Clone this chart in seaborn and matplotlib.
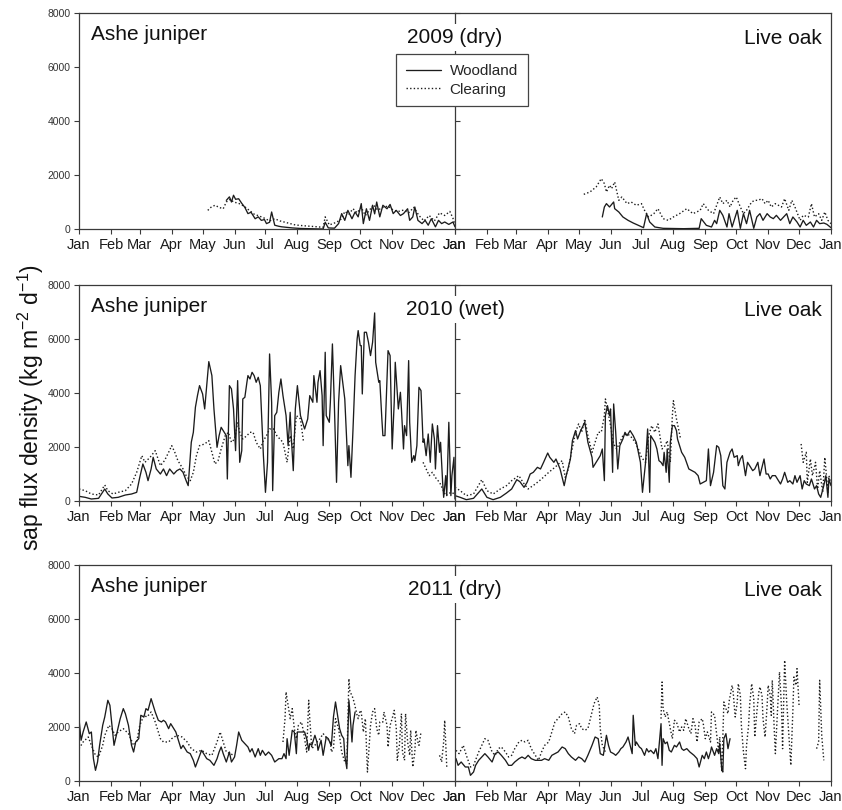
import numpy as np
import pandas as pd
import matplotlib
matplotlib.use("Agg")
import matplotlib.pyplot as plt
import seaborn as sns
from matplotlib.lines import Line2D

# ---------------- data (day of year, sap flux density kg m-2 d-1); None = gap ----------------
month_starts = [0, 31, 59, 90, 120, 151, 181, 212, 243, 273, 304, 334, 365]
month_labels = ["Jan", "Feb", "Mar", "Apr", "May", "Jun", "Jul", "Aug", "Sep", "Oct", "Nov", "Dec", "Jan"]
y_ticks = [0, 2000, 4000, 6000, 8000]
year_labels = ["2009 (dry)", "2010 (wet)", "2011 (dry)"]
species = ["Ashe juniper", "Live oak"]
sites = ["Woodland", "Clearing"]

ash09_wood = [(143,1060),(146,1190),(148,1000),(150,1250),(152,1100),(155,1120),(158,950),(161,800),(164,570),
              (167,620),(171,380),(174,450),(177,320),(180,350),(182,200),(185,250),(187,630),(190,140),(194,100),
              (197,80),(202,60),(207,40),(215,20),(223,12),(230,5),(237,0),(239,250),(242,40),(248,30),(252,200),
              (255,570),(258,320),(261,690),(265,380),(268,630),(271,450),(274,940),(276,200),(279,750),(282,320),
              (285,880),(287,560),(289,1000),(292,450),(295,880),(299,750),(302,910),(305,570),(308,690),(312,500),
              (315,570),(319,750),(321,320),(324,445),(326,815),(329,320),(333,200),(336,320),(339,140),(342,380),
              (346,80),(349,320),(352,200),(355,260),(359,170),(363,260),(365,80)]
ash09_clear = [(125,690),(128,800),(132,880),(136,800),(140,750),(143,1000),(147,1100),(150,1000),(155,950),
               (160,850),(165,700),(170,550),(175,480),(180,400),(185,300),(190,380),(195,300),(200,250),(205,200),
               (210,150),(218,120),(225,100),(232,80),(237,60),(239,450),(243,150),(250,250),(255,380),(258,650),
               (262,550),(266,750),(270,600),(274,800),(278,500),(282,700),(286,900),(290,700),(295,800),(300,850),
               (305,700),(310,650),(315,700),(320,600),(325,800),(330,500),(335,300),(340,500),(345,300),(350,600),
               (355,500),(360,650),(363,400),(365,150)]
oak09_wood = [(143,445),(145,815),(147,939),(150,815),(154,1000),(155,753),(159,630),(163,445),(168,321),(173,222),
              (178,136),(183,49),(186,568),(189,259),(194,74),(202,25),(222,12),(237,25),(239,383),(244,136),(249,74),
              (252,321),(254,198),(257,692),(260,506),(264,74),(266,568),(269,74),(272,445),(274,692),(277,25),
              (280,568),(283,198),(286,692),(290,25),(293,445),(296,568),(299,321),(303,568),(306,445),(309,383),
              (312,506),(316,321),(319,445),(322,568),(325,198),(328,445),(332,259),(335,74),(338,321),(341,136),
              (345,259),(348,74),(351,321),(354,198),(358,222),(361,173),(365,49)]
oak09_clear = [(125,1284),(131,1371),(137,1556),(142,1865),(145,1680),(147,1371),(150,1618),(152,1494),(155,1741),
               (159,1062),(162,1186),(167,939),(171,1000),(176,877),(181,939),(184,692),(188,445),(193,568),(197,753),
               (202,383),(207,321),(212,445),(218,568),(225,753),(231,568),(238,692),(241,939),(246,692),(251,568),
               (257,1186),(260,939),(264,1062),(267,815),(270,1062),(273,1186),(277,815),(280,568),(283,692),
               (288,1000),(291,1062),(294,1062),(298,1124),(301,939),(304,1062),(307,815),(311,939),(314,877),
               (317,815),(320,1124),(324,692),(327,1062),(330,815),(335,321),(338,506),(343,445),(346,939),(349,445),
               (353,568),(356,321),(359,630),(362,321),(365,198)]

ash10_wood = [(0,173),(6,136),(12,74),(19,99),(25,445),(28,259),(32,111),(38,136),(45,222),(51,259),(56,321),
              (59,877),(62,1371),(65,1062),(67,753),(70,1186),(72,1618),(75,1186),(79,1000),(82,1186),(85,939),
              (88,1186),(92,1000),(95,1124),(98,1186),(101,1062),(104,753),(106,568),(109,2174),(111,2544),
              (113,3470),(115,3903),(117,4273),(120,3964),(122,3409),(124,4273),(126,5162),(129,4644),(131,3409),
              (134,1988),(136,2421),(138,2729),(141,2544),(143,2421),(144,815),(146,4273),(148,4150),(150,3409),
              (152,1865),(154,4458),(156,1433),(158,1865),(159,3779),(161,3841),(163,4397),(164,4644),(166,4520),
              (168,4767),(170,4644),(172,4397),(174,4582),(176,4273),(177,3409),(179,1680),(181,321),(183,1433),
              (185,5446),(187,3656),(188,383),(190,3162),(192,3285),(194,4026),(196,4520),(198,3903),(201,3162),
              (203,2050),(205,3285),(206,2421),(208,1124),(210,3409),(212,4273),(215,3162),(217,2915),(219,2668),
              (222,3038),(224,3903),(227,3656),(228,4644),(231,3656),(232,4397),(234,4829),(236,3903),(237,2050),
              (239,5508),(240,3162),(243,2915),(244,3656),(246,5817),(248,3409),(250,692),(252,3656),(254,5014),
              (256,4397),(258,3779),(261,1309),(262,2050),(264,877),(266,2668),(268,4644),(270,6002),(271,6311),
              (273,5755),(274,5755),(275,3964),(277,6249),(279,6249),(281,5879),(283,5385),(285,5879),(287,6965),
              (288,5138),(291,4397),(292,4458),(294,3038),(295,2421),(297,2421),(300,5570),(302,5385),(304,1927),
              (306,3656),(307,5138),(310,3409),(312,4026),(313,3409),(315,1927),(316,2791),(318,2421),(320,5200),
              (321,2915),(323,1433),(325,1680),(326,1494),(328,2050),(330,4211),(332,4088),(334,2174),(335,2297),
              (337,1680),(339,2482),(341,1433),(343,2853),(345,2297),(346,1186),(348,2791),(350,1803),(351,2174),
              (353,692),(354,136),(356,939),(357,198),(359,2915),(361,198),(362,939),(364,1618),(365,74)]
ash10_clear = [(0,445),(6,383),(12,259),(19,222),(25,593),(28,383),(33,259),(38,321),(45,383),(51,630),(56,1062),
               (61,1680),(64,1433),(69,1618),(74,1865),(79,1309),(83,1494),(87,1803),(90,2050),(93,1803),(96,1494),
               (101,1186),(104,939),(108,753),(111,1062),(114,1680),(117,2050),(122,2112),(126,2235),(129,1803),
               (132,1371),(135,1494),(138,1927),(142,2421),(145,2544),(148,2174),(151,2297),(154,2915),(156,2544),
               (159,2297),(163,2421),(166,2544),(169,2544),(172,2174),(176,1927),(179,2235),(182,2421),(185,2668),
               (189,2668),(192,2421),(195,2297),(198,2174),(202,1433),(205,2421),(208,1927),(211,3162),(215,3038),
               (218,2174),(None,None),(334,1433),(337,1186),(340,939),(343,1062),(347,815),(350,692),(353,445),
               (356,198),(361,321),(365,259)]
oak10_wood = [(0,198),(5,136),(11,49),(18,99),(26,445),(31,136),(37,49),(44,136),(50,296),(55,445),(60,790),
              (63,716),(67,506),(70,692),(73,1000),(76,1062),(80,1247),(83,1186),(86,1433),(90,1778),(92,1618),
              (96,1433),(98,1556),(102,1186),(106,568),(108,939),(112,1556),(114,2235),(117,2606),(119,2297),
              (122,2606),(126,2915),(129,2174),(133,1618),(134,1247),(138,1494),(141,1680),(143,1927),(145,753),
              (146,3162),(148,3532),(150,3162),(151,3409),(153,1062),(154,3594),(156,2544),(158,1186),(160,2050),
              (163,2297),(165,2544),(167,2421),(170,2606),(173,2421),(176,2174),(180,1433),(182,321),(185,1433),
              (187,2668),(189,321),(190,2421),(192,2297),(194,2174),(196,1927),(198,1494),(200,1433),(202,1309),
              (203,1803),(205,1062),(206,1927),(208,692),(209,2174),(211,2791),(213,2791),(215,2606),(216,2297),
              (218,2050),(220,1803),(223,1618),(227,1186),(230,1124),(233,1062),(236,939),(238,630),(241,692),
              (244,753),(246,1927),(248,568),(251,1062),(254,2050),(256,1988),(258,1680),(260,568),(262,445),
              (264,1433),(267,1803),(269,1927),(271,1618),(274,1680),(275,1309),(277,1556),(279,1680),(282,939),
              (284,1433),(286,1309),(289,1124),(291,1186),(294,1433),(296,939),(298,1247),(300,1556),(302,1000),
              (304,1000),(306,815),(308,939),(311,939),(313,815),(316,630),(318,815),(320,1062),(323,692),(325,753),
              (328,630),(330,939),(332,692),(335,939),(337,445),(339,753),(341,630),(344,568),(346,815),(349,445),
              (351,568),(353,259),(355,136),(358,568),(360,939),(362,136),(363,815),(365,568)]
oak10_clear = [(0,506),(5,383),(11,198),(18,259),(26,790),(31,383),(37,259),(44,445),(50,568),(55,753),(62,939),
               (66,692),(71,445),(78,630),(84,815),(91,1062),(97,1247),(104,1494),(107,877),(110,1186),(113,1803),
               (117,2544),(120,2853),(123,2544),(126,3038),(129,2421),(133,1803),(136,2174),(139,2544),(142,2544),
               (145,3162),(146,3779),(148,3409),(151,2791),(154,2112),(157,1927),(160,2174),(163,2421),(167,2482),
               (170,2421),(175,2174),(178,1927),(181,1618),(185,1433),(188,2421),(191,2791),(194,2544),(197,2853),
               (201,1927),(204,2050),(206,2235),(209,1433),(211,3162),(212,3717),(215,3038),(217,2668),(219,2297),
               (None,None),(336,2112),(338,1433),(341,1803),(342,692),(345,1556),(347,939),(350,1433),(352,445),
               (354,1124),(357,321),(359,1618),(362,321),(363,939),(365,630)]

ash11_wood = [(0,2309),(2,1507),(4,1815),(7,2186),(10,1754),(12,1815),(14,827),(16,395),(18,704),(20,1321),
              (23,2062),(25,2371),(28,2989),(30,2803),(32,2062),(34,1321),(37,1815),(40,2309),(43,2680),(45,2495),
              (48,2062),(51,1321),(53,1074),(55,1445),(58,1568),(60,2433),(63,2371),(65,2680),(67,2618),(70,3050),
              (72,2803),(74,2556),(77,2248),(80,2186),(82,2248),(84,2186),(87,1939),(89,2124),(92,1939),(94,1815),
              (96,1568),(99,1198),(101,1321),(105,1074),(108,1013),(111,766),(113,519),(116,827),(119,1136),
              (121,1013),(124,827),(127,766),(131,580),(134,827),(136,1074),(138,1260),(140,1013),(143,704),
              (146,1074),(148,704),(151,889),(153,1321),(155,1815),(158,1507),(161,1383),(164,1260),(166,1074),
              (168,1198),(171,889),(174,1198),(176,951),(178,1136),(181,951),(184,1074),(187,951),(190,704),
              (194,827),(197,827),(199,1013),(201,827),(202,1568),(204,951),(207,1877),(209,1815),(211,1013),
              (212,1815),(215,1815),(217,1815),(219,1815),(221,1568),(223,1136),(224,1383),(226,1321),(229,1692),
              (231,1445),(232,1136),(235,1507),(237,951),(240,1630),(242,1568),(244,1383),(245,1321),(247,2371),
              (249,2927),(250,2680),(252,2186),(253,1939),(255,1692),(257,1568),(258,951),(260,457),(262,2989),
              (263,2556),(265,1445),(266,2062),(268,2556)]
ash11_clear = [(0,1198),(4,1445),(9,1630),(12,1321),(16,951),(19,889),(23,1321),(25,1692),(29,2062),(32,1939),
               (35,1692),(38,1815),(43,1939),(48,1754),(53,1321),(56,1445),(59,2062),(63,2433),(66,2371),(70,2556),
               (74,2186),(79,1568),(82,1445),(87,1445),(90,1568),(95,1692),(100,1630),(105,1445),(109,1198),
               (114,1074),(119,1136),(124,1013),(129,951),(134,1445),(137,1815),(140,1445),(143,1074),(147,1013),
               (150,951),(None,None),(198,1445),(200,2309),(201,3297),(203,2803),(205,2309),(207,2680),(209,1939),
               (211,1568),(213,2062),(216,2186),(218,1815),(221,1074),(223,2989),(224,2309),(226,1198),(229,1321),
               (231,1445),(234,1568),(237,1754),(241,1568),(244,1445),(245,1074),(247,1198),(249,2309),(252,1939),
               (255,1074),(258,704),(260,642),(262,3791),(263,3297),(265,3174),(267,2927),(270,2433),(271,2309),
               (273,2618),(274,2556),(276,1815),(278,2309),(280,333),(283,2062),(285,2556),(287,2680),(289,1939),
               (291,1692),(292,2186),(295,2186),(296,2556),(299,2062),(300,1260),(302,2062),(304,2309),(306,2618),
               (308,1939),(309,766),(311,1321),(313,2495),(314,1074),(316,766),(317,2495),(319,1445),(321,951),
               (322,1877),(324,519),(326,1074),(327,1877),(329,1445),(330,1321),(332,1815),(None,None),(350,951),
               (352,704),(354,1445),(355,2248),(357,519)]
oak11_wood = [(1,827),(3,580),(6,704),(10,519),(13,519),(15,210),(18,333),(20,580),(23,766),(26,889),(29,1013),
              (32,889),(36,704),(39,1013),(42,1074),(45,951),(49,766),(52,580),(55,580),(58,704),(62,827),(65,889),
              (68,827),(71,951),(74,827),(78,766),(81,766),(84,766),(87,827),(91,766),(94,951),(97,1013),(100,1074),
              (104,1260),(107,1198),(110,1013),(113,889),(117,766),(120,889),(123,827),(126,704),(129,951),
              (133,1321),(136,1630),(139,1568),(141,1013),(144,951),(147,1692),(149,1321),(151,1074),(154,1013),
              (156,951),(159,1074),(161,1198),(163,1260),(166,1445),(168,1630),(170,1321),(172,1013),(173,2433),
              (175,1321),(176,1445),(179,1260),(181,1198),(184,951),(186,1198),(188,1074),(190,1136),(193,1013),
              (195,1198),(197,827),(200,2124),(201,580),(202,1568),(204,1383),(206,1445),(208,1136),(210,1074),
              (213,1321),(215,1260),(218,1445),(220,1198),(222,1136),(225,1198),(228,1074),(230,1013),(232,951),
              (235,827),(237,519),(240,951),(242,827),(244,1074),(246,827),(248,1074),(249,1260),(252,951),
              (254,1198),(256,1013),(257,1383),(259,395),(260,333),(261,1568),(263,1754),(265,1198),(267,1568)]
oak11_clear = [(1,1136),(4,1013),(8,1321),(11,951),(15,519),(18,580),(23,1074),(26,1321),(29,1568),(32,1507),
               (36,1074),(39,951),(42,1198),(45,1260),(49,1074),(52,889),(55,951),(58,1198),(62,1445),(65,1507),
               (68,1445),(71,1507),(74,1198),(78,951),(81,766),(84,1074),(87,1321),(91,1445),(94,1815),(97,2186),
               (100,2309),(104,2495),(107,2556),(110,2371),(113,1939),(116,1754),(118,2062),(121,2124),(123,1939),
               (126,1877),(129,1939),(133,2556),(135,2865),(138,3112),(140,2803),(141,1939),(143,1321),(146,1074),
               (None,None),(200,2309),(201,3668),(202,2680),(204,2371),(206,2556),(209,1939),(211,1568),(213,2248),
               (215,2186),(218,1815),(220,2001),(222,1877),(224,2309),(227,1939),(229,1754),(231,2309),(233,2062),
               (235,1445),(237,2186),(240,2309),(241,2124),(243,1568),(245,1815),(248,1445),(249,2556),(252,2433),
               (253,2062),(256,1074),(257,1630),(259,333),(261,2927),(263,2680),(265,2495),(266,2927),(269,3544),
               (270,3297),(272,2371),(274,2927),(275,3606),(277,3174),(278,2062),(280,1074),(282,457),(283,1321),
               (285,2062),(286,2803),(288,3606),(290,3050),(291,1630),(293,2556),(295,3297),(296,3483),(298,3174),
               (299,2309),(301,1630),(303,2803),(304,3544),(306,3174),(307,2433),(308,3730),(310,1815),(311,1013),
               (313,2556),(315,4038),(317,2680),(318,1198),(320,4471),(322,2927),(324,1754),(326,580),(328,2618),
               (329,3853),(331,3544),(332,4162),(334,2803),(None,None),(351,1198),(353,1445),(354,3730),(356,1692),
               (358,766)]

panels = [
    [(ash09_wood, ash09_clear), (oak09_wood, oak09_clear)],
    [(ash10_wood, ash10_clear), (oak10_wood, oak10_clear)],
    [(ash11_wood, ash11_clear), (oak11_wood, oak11_clear)],
]


def to_frame(pairs):
    rows, seg = [], 0
    for d, v in pairs:
        if v is None:
            seg += 1
            continue
        rows.append((d, v, seg))
    return pd.DataFrame(rows, columns=["day", "flux", "seg"])


# ---------------- style ----------------
sns.set_style("ticks")
plt.rcParams["font.family"] = ["Liberation Sans", "DejaVu Sans"]
plt.rcParams["mathtext.default"] = "regular"

W, H = 842, 810
fig = plt.figure(figsize=(W / 100, H / 100), dpi=100)

line_col = "#1c1c1c"
spine_col = "#3a3a3a"
dot_style = (0, (1, 1.6))
row_tops = [13, 285, 565]
ph = 216
left_x, mid_x, pw = 79, 455, 376

for r in range(3):
    bottom = 1 - (row_tops[r] + ph) / H
    for c in range(2):
        x0 = left_x if c == 0 else mid_x
        ax = fig.add_axes([x0 / W, bottom, pw / W, ph / H])
        wood, clear = panels[r][c]
        sns.lineplot(data=to_frame(clear), x="day", y="flux", units="seg", estimator=None,
                     color=line_col, lw=1.0, linestyle=dot_style, ax=ax, legend=False, sort=True)
        sns.lineplot(data=to_frame(wood), x="day", y="flux", units="seg", estimator=None,
                     color=line_col, lw=0.95, ax=ax, legend=False, sort=True)
        ax.set_xlim(0, 365)
        ax.set_ylim(0, 8000)
        ax.set_xticks(month_starts)
        ax.set_xticklabels(month_labels, fontsize=10.5, color="#1a1a1a")
        ax.set_yticks(y_ticks)
        ax.set_xlabel("")
        ax.set_ylabel("")
        ax.tick_params(axis="x", direction="out", length=3.3, width=0.8, pad=3.3, color=spine_col)
        for s in ax.spines.values():
            s.set_color(spine_col)
            s.set_linewidth(0.9)
            s.set_visible(True)
        if c == 0:
            ax.spines["right"].set_visible(False)
            ax.set_yticklabels([str(v) for v in y_ticks], fontsize=7.5, color="#333333")
            ax.tick_params(axis="y", direction="out", length=3.3, width=0.8, pad=3, color=spine_col)
            ax.text(0.032, 0.875, species[0], transform=ax.transAxes, ha="left", va="baseline",
                    fontsize=15, color="#111111")
        else:
            ax.set_yticklabels([])
            ax.tick_params(axis="y", direction="in", length=3.3, width=0.8, color=spine_col)
            ax.text(0.976, 0.855, species[1], transform=ax.transAxes, ha="right", va="baseline",
                    fontsize=15, color="#111111")
            ax.text(0.0, 0.861, year_labels[r], transform=ax.transAxes, ha="center", va="baseline",
                    fontsize=15, color="#111111", zorder=6,
                    bbox=dict(facecolor="white", edgecolor="none", pad=3))

fig.text(31 / W, 0.497, "sap flux density (kg m$^{-2}$ d$^{-1}$)", rotation=90,
         ha="center", va="center", fontsize=16.5, color="#111111")

handles = [Line2D([], [], color=line_col, lw=0.95, linestyle="-"),
           Line2D([], [], color=line_col, lw=1.0, linestyle=dot_style)]
leg = fig.legend(handles, sites, loc="upper left", bbox_to_anchor=(396 / W, 1 - 54 / H),
                 frameon=True, fancybox=False, framealpha=1, edgecolor="#444444", fontsize=11,
                 handlelength=2.3, handletextpad=0.55, borderpad=0.65, labelspacing=0.3,
                 borderaxespad=0)
leg.get_frame().set_linewidth(0.9)

fig.savefig("out.png", dpi=100)
